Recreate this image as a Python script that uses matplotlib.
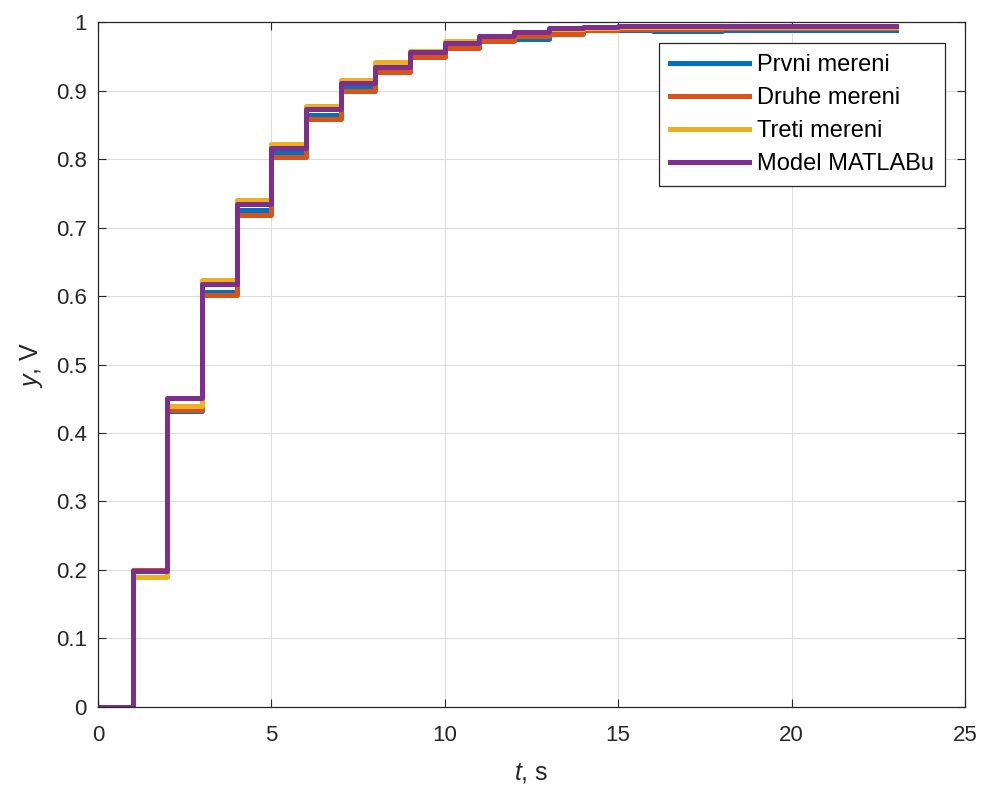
import numpy as np
import matplotlib.pyplot as plt

plt.rcParams['font.family'] = ['Liberation Sans', 'DejaVu Sans']
plt.rcParams['mathtext.fontset'] = 'custom'
plt.rcParams['mathtext.it'] = 'Liberation Sans:italic'
plt.rcParams['mathtext.rm'] = 'Liberation Sans'

# sample times and measured step responses
t = np.arange(0, 24)
prvni = [0, 0.200, 0.432, 0.606, 0.726, 0.810, 0.865, 0.905, 0.932, 0.952,
         0.965, 0.975, 0.976, 0.984, 0.988, 0.988, 0.987, 0.987, 0.989, 0.989,
         0.989, 0.989, 0.989, 0.989]
druhe = [0, 0.200, 0.434, 0.601, 0.718, 0.803, 0.858, 0.899, 0.927, 0.949,
         0.962, 0.973, 0.980, 0.983, 0.988, 0.990, 0.990, 0.990, 0.992, 0.992,
         0.992, 0.992, 0.992, 0.992]
treti = [0, 0.190, 0.440, 0.624, 0.740, 0.822, 0.878, 0.915, 0.942, 0.958,
         0.972, 0.980, 0.986, 0.990, 0.992, 0.993, 0.993, 0.993, 0.993, 0.993,
         0.993, 0.993, 0.993, 0.993]
model = [0, 0.199, 0.451, 0.617, 0.735, 0.816, 0.873, 0.911, 0.935, 0.956,
         0.969, 0.979, 0.986, 0.991, 0.993, 0.994, 0.994, 0.994, 0.994, 0.994,
         0.994, 0.994, 0.994, 0.994]

labels = ['Prvni mereni', 'Druhe mereni', 'Treti mereni', 'Model MATLABu']
colors = ['#0072BD', '#D95319', '#EDB120', '#7E2F8E']

fig = plt.figure(figsize=(9.84, 7.89), dpi=100)
ax = fig.add_axes([0.0996, 0.104, 0.881, 0.868])

for y, lab, c in zip([prvni, druhe, treti, model], labels, colors):
    ax.step(t, y, where='post', color=c, lw=3.6, label=lab)

ax.set_xlim(0, 25)
ax.set_ylim(0, 1)
ax.set_xticks(np.arange(0, 26, 5))
ax.set_yticks(np.arange(0, 1.01, 0.1))
ax.set_yticklabels(['0', '0.1', '0.2', '0.3', '0.4', '0.5', '0.6', '0.7',
                    '0.8', '0.9', '1'])
ax.grid(True, color='#dcdcdc', lw=0.8)
ax.tick_params(direction='in', top=True, right=True, labelsize=16,
               length=6, width=0.8, colors='#262626')
ax.tick_params(axis='x', pad=13)
ax.tick_params(axis='y', pad=8)
for s in ax.spines.values():
    s.set_color('#262626')
    s.set_linewidth(0.9)

ax.set_xlabel(r'$\mathit{t}$, s', fontsize=18, color='#262626', labelpad=11)
ax.set_ylabel(r'$\mathit{y}$, V', fontsize=18, color='#262626', labelpad=8)

leg = ax.legend(loc='upper right', bbox_to_anchor=(0.977, 0.969),
                fontsize=17, handlelength=3.35, handletextpad=0.34,
                borderpad=0.46, labelspacing=0.47, fancybox=False,
                framealpha=1, borderaxespad=0)
leg.get_frame().set_edgecolor('#262626')
leg.get_frame().set_linewidth(0.9)

fig.savefig('out.png', dpi=100)
